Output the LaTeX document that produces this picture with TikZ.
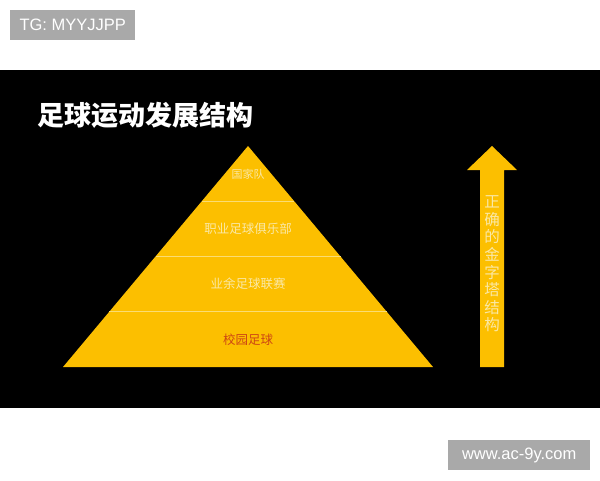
\documentclass[tikz,border=0pt]{standalone}
\usepackage{fontspec}
\setmainfont{Liberation Sans}
\newfontfamily\cjk{Noto Sans CJK SC}
\usepackage{tikz}
\usetikzlibrary{positioning,calc}
\definecolor{tagGray}{RGB}{169,169,169}
\definecolor{gold}{RGB}{252,191,0}
\definecolor{paleText}{RGB}{250,232,165}
\definecolor{schoolRed}{RGB}{205,70,20}

\begin{document}
\begin{tikzpicture}[x=1pt,y=-1pt,
            tag/.style={fill=tagGray,text=white,inner sep=0,minimum height=30,font=\fontsize{16.5}{16.5}\selectfont},
            level/.style={text=paleText,inner sep=0,font=\cjk\fontsize{12.5}{12.5}\selectfont},
            divider/.style={draw=paleText!70!gold,line width=.8pt},
            every path/.style={line join=miter}
          ]
          \useasboundingbox (0,0) rectangle (600,480);
          %tags
          \node[tag,minimum width=125,anchor=north west] (tg) at (10,10) {TG: MYYJJPP};
          \node[tag,minimum width=142,anchor=north west] (site) at (448,440) {www.ac-9y.com};

          %background
          \fill[black] (0,70) rectangle (600,408);
          \node[anchor=west,inner sep=0,text=white,font=\cjk\bfseries\fontsize{27}{27}\selectfont] (title) at (37,115) {足球运动发展结构};

          %pyramid
          \coordinate (apex) at (248,146);
          \coordinate (bl) at (63,367);
          \coordinate (br) at (433,367);
          \fill[gold] (apex) -- (bl) -- (br) -- cycle;
          \foreach \t in {.25,.5,.75}
            \draw[divider] ($(apex)!\t!(bl)$) -- ($(apex)!\t!(br)$);

          %levels
          \node[level,font=\cjk\fontsize{11}{11}\selectfont] (team) at (248,174) {国家队};
          \node[level] (club) at (248,229) {职业足球俱乐部};
          \node[level] (amateur) at (248,284) {业余足球联赛};
          \node[level,text=schoolRed] (school) at (248,340) {校园足球};

          %arrow
          \coordinate (tip) at (492,146);
          \fill[gold] (480,367) -- (480,170) -- (467,170) -- (tip) -- (517,170) -- (504,170) -- (504,367) -- cycle;
          \node[level,align=center,font=\cjk\fontsize{15.5}{17.6}\selectfont] (right) at (492,264) {正\\确\\的\\金\\字\\塔\\结\\构};
      \end{tikzpicture}
\end{document}
